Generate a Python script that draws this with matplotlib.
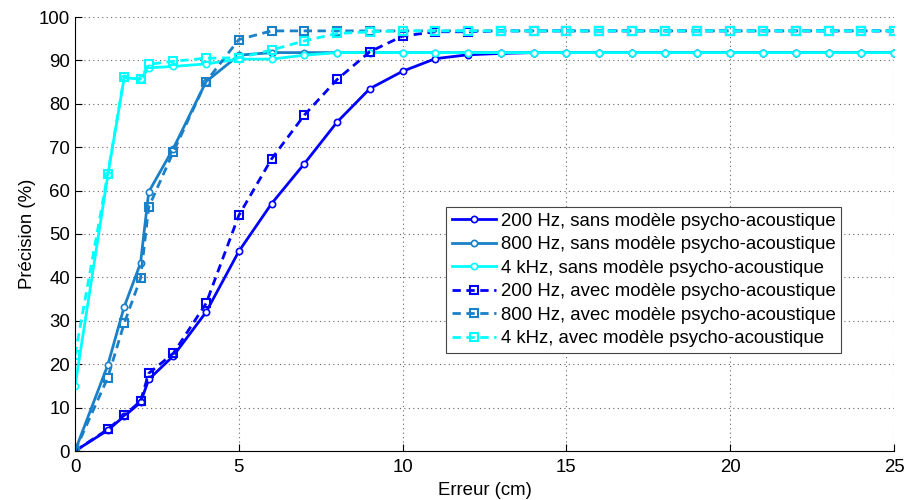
import matplotlib
matplotlib.use('Agg')
import matplotlib.pyplot as plt

plt.rcParams['font.family'] = ['Liberation Sans', 'DejaVu Sans']

# erreur (cm)
erreur = [0, 1, 1.5, 2, 2.25] + list(range(3, 26))

# sans modele psycho-acoustique
hz200_sans = [0, 4.8, 8.0, 11.2, 16.5, 21.9, 32.0, 46.0, 57.0, 66.2, 75.8, 83.5, 87.5,
              90.4, 91.3, 91.6, 91.8] + [91.8] * 11
hz800_sans = [0, 19.8, 33.2, 43.3, 59.7, 69.7, 85.1, 91.2, 91.8] + [91.8] * 19
khz4_sans = [14.9, 63.5, 86.0, 85.7, 88.3, 88.6, 89.2, 90.3, 90.3, 91.2, 91.8] + [91.8] * 17

# avec modele psycho-acoustique
hz200_avec = [0, 5.0, 8.2, 11.5, 17.9, 22.5, 34.0, 54.3, 67.3, 77.4, 85.6, 92.0, 95.6,
              96.6, 96.6] + [96.8] * 13
hz800_avec = [0, 16.9, 29.4, 39.8, 56.2, 68.9, 85.1, 94.8] + [96.8] * 20
khz4_avec = [22.1, 63.9, 86.1, 85.7, 89.1, 89.8, 90.5, 90.6, 92.4, 94.5, 96.2, 96.6,
             96.8] + [96.8] * 15

labels = ['200 Hz, sans modèle psycho-acoustique',
          '800 Hz, sans modèle psycho-acoustique',
          '4 kHz, sans modèle psycho-acoustique',
          '200 Hz, avec modèle psycho-acoustique',
          '800 Hz, avec modèle psycho-acoustique',
          '4 kHz, avec modèle psycho-acoustique']

c200 = '#0000FF'
c800 = '#1A80C8'
c4k = '#00FFFF'
fs = 13.4

fig = plt.figure(figsize=(9.06, 5.0), dpi=100)
ax = fig.add_axes([0.0828, 0.098, 0.904, 0.868])

ax.plot(erreur, hz200_sans, '-', color=c200, lw=2, marker='o', ms=4.5, mfc='white', mew=1.2, label=labels[0])
ax.plot(erreur, hz800_sans, '-', color=c800, lw=2, marker='o', ms=4.5, mfc='white', mew=1.2, label=labels[1])
ax.plot(erreur, khz4_sans, '-', color=c4k, lw=2, marker='o', ms=4.5, mfc='white', mew=1.2, label=labels[2])
ax.plot(erreur, hz200_avec, '--', color=c200, lw=2, marker='s', ms=6, mfc='none', mew=1.5, dashes=(3, 2), label=labels[3])
ax.plot(erreur, hz800_avec, '--', color=c800, lw=2, marker='s', ms=6, mfc='none', mew=1.5, dashes=(3, 2), label=labels[4])
ax.plot(erreur, khz4_avec, '--', color=c4k, lw=2, marker='s', ms=6, mfc='none', mew=1.5, dashes=(3, 2), label=labels[5])

ax.set_xlim(0, 25)
ax.set_ylim(0, 100)
ax.set_xticks(range(0, 26, 5))
ax.set_yticks(range(0, 101, 10))
ax.grid(True, linestyle=(0, (1, 3)), color='#666666', lw=0.8)
ax.spines['top'].set_visible(False)
ax.spines['right'].set_visible(False)
ax.tick_params(direction='in', labelsize=fs, length=5)
ax.tick_params(axis='x', pad=6)
ax.set_xlabel('Erreur (cm)', fontsize=fs, labelpad=4)
ax.set_ylabel('Précision (%)', fontsize=fs, labelpad=2)

leg = ax.legend(loc='upper left', bbox_to_anchor=(0.453, 0.562), fontsize=fs,
                fancybox=False, framealpha=1, edgecolor='#444444',
                handlelength=2.4, handletextpad=0.25, borderpad=0.3,
                labelspacing=0.35, borderaxespad=0)
leg.get_frame().set_linewidth(0.8)

plt.savefig('out.png')
plt.close()
